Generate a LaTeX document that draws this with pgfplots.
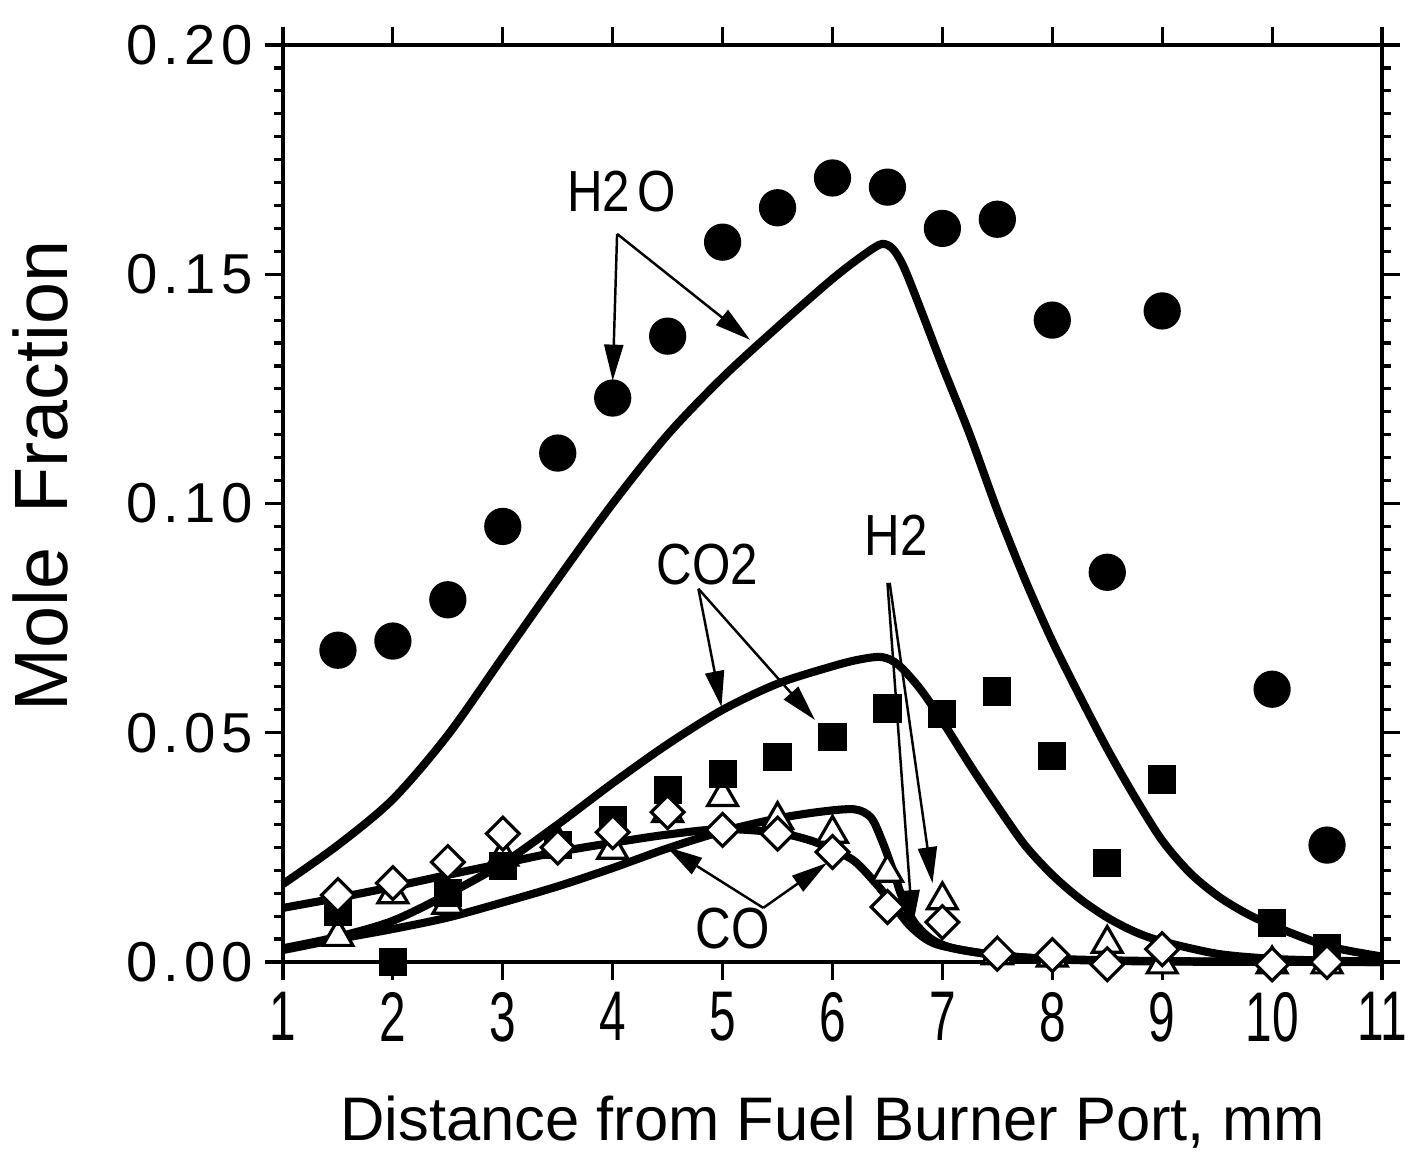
\documentclass[border=0pt]{standalone}
\usepackage{fontspec}
\setmainfont{Liberation Sans}
\newfontfamily\yfont[LetterSpace=10]{Liberation Sans}
\newfontfamily\xfont[FakeStretch=0.68]{Liberation Sans}
\newfontfamily\lfont[FakeStretch=0.85]{Liberation Sans}
\usepackage{pgfplots}
\pgfplotsset{compat=1.18}
\usetikzlibrary{arrows.meta}

\begin{document}
\begin{tikzpicture}
\path[use as bounding box] (-28.3mm,-18.9mm) rectangle (112.8mm,96.2mm);
\begin{axis}[
    at={(0,0)}, anchor=south west,
    scale only axis, width=109.9mm, height=91.7mm,
    xmin=1, xmax=11, ymin=0, ymax=0.20,
    xtick={1,2,3,4,5,6,7,8,9,10,11},
    xticklabels={1,2,3,4,5,6,7,8,9,10,11},
    ytick={0,0.05,0.10,0.15,0.20},
    yticklabels={0.00,0.05,0.10,0.15,0.20},
    minor y tick num=9,
    tick align=outside,
    major tick length=1.8mm, minor tick length=0.9mm,
    axis line style={line width=0.9pt},
    every tick/.style={black, line width=0.9pt},
    xticklabel style={font=\xfont\fontsize{20}{20}\selectfont},
    yticklabel style={font=\yfont\fontsize{16}{16}\selectfont},
    xlabel={Distance from Fuel Burner Port, mm},
    ylabel={Mole\hspace{0.45em}Fraction},
    xlabel style={font=\fontsize{17.5}{17.5}\selectfont, at={(ticklabel cs:0.5,3mm)}},
    ylabel style={font=\fontsize{21.5}{21.5}\selectfont, at={(ticklabel cs:0.53,3.4mm)}},
    clip=false,
]

% model curves
\addplot[black, line width=2.3pt, smooth, tension=0.5] coordinates {
(1.0,0.0170)(1.5,0.0255)(2.0,0.0355)(2.5,0.0495)(3.0,0.0665)(3.5,0.0835)
(4.0,0.1000)(4.5,0.1150)(5.0,0.1275)(5.5,0.1385)(6.0,0.1490)(6.3,0.1545)
(6.45,0.1566)(6.55,0.1555)(6.65,0.1515)(6.8,0.1425)(7.0,0.1300)(7.25,0.1150)
(7.5,0.0985)(7.75,0.0835)(8.0,0.0700)(8.25,0.0580)(8.5,0.0465)(8.75,0.0360)
(9.0,0.0265)(9.25,0.0195)(9.5,0.0145)(9.75,0.0108)(10.0,0.0080)(10.5,0.0035)
(11.0,0.0012)};
\addplot[black, line width=2.3pt, smooth, tension=0.5] coordinates {
(1.0,0.0030)(1.5,0.0055)(2.0,0.0090)(2.5,0.0148)(3.0,0.0215)(3.5,0.0300)
(4.0,0.0390)(4.5,0.0475)(5.0,0.0550)(5.5,0.0607)(6.0,0.0645)(6.25,0.0660)
(6.45,0.0665)(6.6,0.0648)(6.8,0.0595)(7.0,0.0525)(7.25,0.0430)(7.5,0.0340)
(7.75,0.0255)(8.0,0.0190)(8.25,0.0138)(8.5,0.0097)(8.75,0.0066)(9.0,0.0045)
(9.5,0.0018)(10.0,0.0007)(10.5,0.0003)(11.0,0.0001)};
\addplot[black, line width=2.3pt, smooth, tension=0.5] coordinates {
(1.0,0.0118)(1.5,0.0140)(2.0,0.0164)(2.5,0.0190)(3.0,0.0215)(3.5,0.0240)
(4.0,0.0260)(4.5,0.0278)(5.0,0.0290)(5.5,0.0282)(5.8,0.0265)(6.0,0.0245)
(6.2,0.0220)(6.4,0.0170)(6.55,0.0125)(6.7,0.0080)(6.85,0.0050)(7.0,0.0035)
(7.4,0.0018)(8.0,0.0006)(9.0,0.0001)(11.0,0.0)};
\addplot[black, line width=2.3pt, smooth, tension=0.5] coordinates {
(1.0,0.0026)(1.5,0.0050)(2.0,0.0072)(2.5,0.0097)(3.0,0.0130)(3.5,0.0165)
(4.0,0.0205)(4.5,0.0248)(5.0,0.0285)(5.5,0.0313)(5.9,0.0328)(6.2,0.0333)
(6.35,0.0315)(6.45,0.0265)(6.55,0.0200)(6.65,0.0130)(6.75,0.0085)(6.9,0.0050)
(7.1,0.0030)(7.5,0.0015)(8.0,0.0007)(9.0,0.0002)(11.0,0.0)};

% H2O measured
\addplot[only marks, mark=*, mark size=5.1pt, mark options={fill=black, draw=black}] coordinates {
(1.5,0.068)(2,0.070)(2.5,0.079)(3,0.095)(3.5,0.111)(4,0.123)(4.5,0.1365)
(5,0.157)(5.5,0.1645)(6,0.171)(6.5,0.169)(7,0.160)(7.5,0.162)(8,0.140)
(8.5,0.085)(9,0.142)(10,0.0595)(10.5,0.0255)};
% H2 measured
\addplot[only marks, mark=triangle*, mark size=4.9pt, mark options={fill=white, draw=black, line width=0.9pt}] coordinates {
(1.5,0.0055)(2,0.0148)(2.5,0.0125)(3,0.023)(3.5,0.026)(4,0.0245)(4.5,0.0325)
(5,0.036)(5.5,0.031)(6,0.028)(6.5,0.0195)(7,0.0135)(7.5,0.0015)(8,0.001)
(8.5,0.004)(9,-0.0005)(10,-0.0005)(10.5,-0.0005)};
% CO2 measured
\addplot[only marks, mark=square*, mark size=3.8pt, mark options={fill=black, draw=black}] coordinates {
(1.5,0.011)(2,0.0)(2.5,0.015)(3,0.021)(3.5,0.0255)(4,0.031)(4.5,0.0375)
(5,0.041)(5.5,0.0447)(6,0.049)(6.5,0.0553)(7,0.054)(7.5,0.059)(8,0.045)
(8.5,0.0216)(9,0.0398)(10,0.0085)(10.5,0.003)};
% CO measured
\addplot[only marks, mark=square*, mark size=3.3pt, mark options={rotate=45, fill=white, draw=black, line width=0.9pt}] coordinates {
(1.5,0.0146)(2,0.0172)(2.5,0.0218)(3,0.028)(3.5,0.025)(4,0.0283)(4.5,0.0327)
(5,0.0288)(5.5,0.028)(6,0.024)(6.5,0.012)(7,0.0087)(7.5,0.0018)(8,0.0015)
(8.5,-0.0005)(9,0.0028)(10,-0.0005)(10.5,0.0)};

% annotations
\tikzset{ann/.style={-{Triangle[length=3.6mm,width=1.9mm]}, line width=0.7pt},
         lab/.style={font=\lfont\fontsize{16.5}{16.5}\selectfont}}
\node[lab] at (axis cs:4.08,0.1680) {H2\hspace{0.12em}O};
\draw[ann] (axis cs:4.04,0.1588) -- (axis cs:4.0,0.1268);
\draw[ann] (axis cs:4.04,0.1588) -- (axis cs:5.25,0.1357);
\node[lab] at (axis cs:4.86,0.0866) {CO2};
\draw[ann] (axis cs:4.78,0.0814) -- (axis cs:4.99,0.0556);
\draw[ann] (axis cs:4.78,0.0814) -- (axis cs:5.84,0.0528);
\node[lab] at (axis cs:6.58,0.0930) {H2};
\draw[ann] (axis cs:6.5,0.0827) -- (axis cs:6.73,0.0078);
\draw[ann] (axis cs:6.52,0.0827) -- (axis cs:6.91,0.0172);
\node[lab] at (axis cs:5.09,0.0074) {CO};
\draw[ann] (axis cs:5.37,0.0118) -- (axis cs:4.49,0.0251);
\draw[ann] (axis cs:5.37,0.0118) -- (axis cs:5.95,0.0216);
\end{axis}
\end{tikzpicture}
\end{document}
